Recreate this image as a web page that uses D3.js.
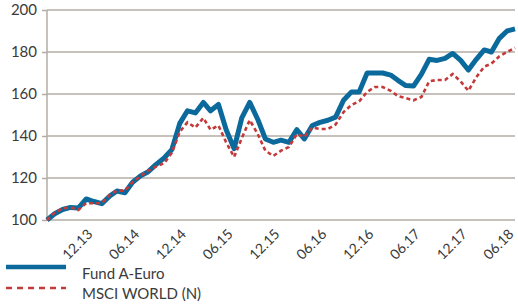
<!DOCTYPE html>
<html>
<head>
<meta charset="utf-8">
<script src="https://cdn.jsdelivr.net/npm/d3@7"></script>
<style>
  body { margin: 0; background: #fff; }
  text { font-family: Lato, "Open Sans", sans-serif; fill: #3a3a3a; }
</style>
</head>
<body>
<script>
var WIDTH = 518,
    HEIGHT = 304;

// monthly index values, 06.13 .. 06.18
var startMonth = "06.13";
var fund = [100, 103, 105, 106, 105.7, 110, 108.8, 107.8, 111.4, 113.8,
            113, 118, 121, 123, 126.5, 129.5, 133.5, 146, 152, 151,
            156, 152, 155, 143, 134, 148.6, 156, 148, 138.6, 137,
            138, 137, 143, 138.6, 145, 146.5, 147.5, 149, 157, 161,
            161, 170, 170, 170, 169, 166.5, 164, 163.8, 169.5, 176.5,
            176, 177, 179.3, 176, 171.4, 176.5, 181, 180, 186.5, 190, 191];
var msci = [100, 103.5, 105.5, 106, 104.8, 108, 108, 108, 112, 114,
            114, 118, 121, 123.5, 125.5, 127, 132, 142, 146.5, 144,
            148.6, 143, 145, 137, 130, 139, 147.6, 141, 133, 130.5,
            133, 134.8, 141, 139.5, 144, 143.3, 143.3, 145.5, 151.4, 154.8,
            156.5, 161, 163.3, 163.3, 161.5, 159, 158, 157, 158.6, 166,
            166.7, 166.7, 169.5, 166, 161.5, 168, 173, 174.5, 178, 180, 182];
var xTickLabels = ["12.13", "06.14", "12.14", "06.15", "12.15", "06.16", "12.16", "06.17", "12.17", "06.18"];
var yTicks = [100, 120, 140, 160, 180, 200];
var seriesNames = ["Fund A-Euro", "MSCI WORLD (N)"];

var parseMonth = d3.timeParse("%m.%y");
var start = parseMonth(startMonth);
var dateOf = function(i){ return d3.timeMonth.offset(start, i); };

var svg = d3.select("body").append("svg")
    .attr("width", WIDTH)
    .attr("height", HEIGHT);

var x = d3.scaleTime()
    .domain([start, dateOf(fund.length - 1)])
    .range([47, 515]);

var y = d3.scaleLinear()
    .domain([100, 200])
    .range([220, 10]);

// horizontal grid + left ticks
var yAxis = svg.append("g")
    .attr("transform", "translate(47,0)")
    .call(d3.axisLeft(y).tickValues(yTicks).tickSize(5).tickPadding(5))
    .call(function(g){ g.select(".domain").remove(); });
yAxis.selectAll("line").attr("stroke", "#b3aca4").attr("stroke-width", 1.5);
yAxis.selectAll("text").style("font-size", "15px").attr("fill", "#3a3a3a");

svg.append("g").selectAll("line.grid")
  .data(yTicks)
  .enter().append("line")
    .attr("x1", 47).attr("x2", 515)
    .attr("y1", function(d){ return y(d); })
    .attr("y2", function(d){ return y(d); })
    .attr("stroke", "#b3aca4")
    .attr("stroke-width", 1.5);

svg.append("line")
    .attr("x1", 47).attr("x2", 47)
    .attr("y1", y(200)).attr("y2", y(100))
    .attr("stroke", "#b3aca4")
    .attr("stroke-width", 1.5);

// x axis labels, rotated
var xAxis = svg.append("g")
    .attr("transform", "translate(0," + y(100) + ")")
    .call(d3.axisBottom(x)
      .tickValues(xTickLabels.map(parseMonth))
      .tickFormat(d3.timeFormat("%m.%y"))
      .tickSize(0))
    .call(function(g){ g.select(".domain").remove(); });
xAxis.selectAll("text")
    .style("font-size", "14px")
    .attr("fill", "#3a3a3a")
    .attr("text-anchor", "end")
    .attr("dy", "0")
    .attr("transform", "translate(-3,13) rotate(-45)");

var line = d3.line()
    .x(function(d, i){ return x(dateOf(i)); })
    .y(function(d){ return y(d); });

svg.append("path")
    .datum(fund)
    .attr("d", line)
    .attr("fill", "none")
    .attr("stroke", "#0b6a9b")
    .attr("stroke-width", 5)
    .attr("stroke-linejoin", "round");

svg.append("path")
    .datum(msci)
    .attr("d", line)
    .attr("fill", "none")
    .attr("stroke", "#c4393a")
    .attr("stroke-width", 2.6)
    .attr("stroke-dasharray", "4,3");

// legend
var legend = svg.append("g");
legend.append("line")
    .attr("x1", 6).attr("x2", 66).attr("y1", 267).attr("y2", 267)
    .attr("stroke", "#0b6a9b").attr("stroke-width", 4.5);
legend.append("line")
    .attr("x1", 6).attr("x2", 66).attr("y1", 288).attr("y2", 288)
    .attr("stroke", "#c4393a").attr("stroke-width", 2.5)
    .attr("stroke-dasharray", "6,5");
legend.selectAll("text")
  .data(seriesNames)
  .enter().append("text")
    .attr("x", 82)
    .attr("y", function(d, i){ return 279 + i * 20; })
    .style("font-size", "15px")
    .text(function(d){ return d; });
</script>
</body>
</html>
